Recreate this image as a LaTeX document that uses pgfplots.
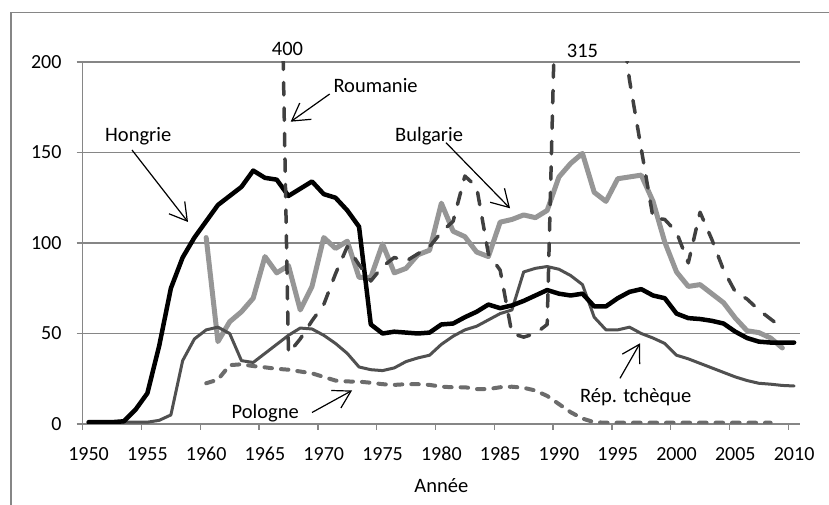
\documentclass[border=0pt]{standalone}
\usepackage{fontspec}
\setmainfont{Carlito}
\usepackage{pgfplots}
\pgfplotsset{compat=1.18}
\usetikzlibrary{arrows.meta}

\definecolor{axgray}{RGB}{134,134,134}
\definecolor{bulg}{RGB}{150,150,150}
\definecolor{tcheq}{RGB}{80,80,80}
\definecolor{polo}{RGB}{108,108,108}
\definecolor{roum}{RGB}{64,64,64}

\newcommand{\lbl}{\fontsize{20.5}{24}\selectfont}

\begin{document}
\begin{tikzpicture}[x=1pt,y=1pt,
  arr/.style={line width=1.2pt,-{Straight Barb[length=17pt,width=20pt,line width=1.2pt]}},
  txt/.style={anchor=base west,inner sep=0pt,font=\lbl}]
\path[use as bounding box] (0,0) rectangle (829,505);
% outer chart frame (only left and top visible)
\draw[axgray,line width=1.3pt] (11,-5) -- (11,505-12.7) -- (840,505-12.7);

\begin{axis}[
  at={(82.7pt,81pt)}, anchor=south west,
  scale only axis, width=717.3pt, height=362pt,
  xmin=1949.5, xmax=2010.5, ymin=0, ymax=200,
  axis x line*=bottom, axis y line*=left,
  axis line style={axgray,line width=1.3pt},
  xtick={1949.5,1954.5,...,2009.5},
  xticklabels={1950,1955,1960,1965,1970,1975,1980,1985,1990,1995,2000,2005,2010},
  ytick={0,50,...,200},
  ymajorgrids, grid style={axgray,line width=1.3pt},
  tick align=outside, major tick length=6pt,
  tick style={axgray,line width=1.3pt},
  tick label style={font=\fontsize{20}{24}\selectfont},
  /pgf/number format/assume math mode=true,
  xticklabel style={anchor=base,inner sep=0pt,xshift=5.88pt,yshift=-30.7pt},
  yticklabel style={anchor=east,inner sep=0pt,xshift=-15pt},
  xlabel={Année},
  xlabel style={at={(axis description cs:0.5,0)},anchor=base,inner sep=0pt,yshift=-68.3pt,font=\lbl},
  line join=round,
]
% Bulgarie
\addplot[bulg,line width=5pt,line cap=round] table {
1960 103
1961 45.5
1962 56.5
1963 62
1964 69.5
1965 92.5
1966 83.5
1967 87.5
1968 63
1969 76
1970 103
1971 97
1972 101
1973 81
1974 81
1975 99.5
1976 83.5
1977 86
1978 93.5
1979 96
1980 122
1981 106.5
1982 103.5
1983 95
1984 92.5
1985 111.5
1986 113
1987 115.5
1988 114
1989 118
1990 136.5
1991 144
1992 149.5
1993 128
1994 123
1995 135.5
1996 136.5
1997 137.5
1998 123
1999 100.5
2000 84
2001 76
2002 77
2003 72
2004 67
2005 58.5
2006 51.5
2007 50.5
2008 47.5
2009 42
};
% Pologne
\addplot[polo,line width=4pt,line cap=round,dash pattern=on 7.5pt off 9pt] table {
1960 22.5
1961 24.5
1962 32.5
1963 33
1964 32
1965 31.3
1966 30.5
1967 30
1968 29
1969 28
1970 26
1971 24
1972 23.5
1973 23.4
1974 22.8
1975 22
1976 21.6
1977 22
1978 22
1979 21.6
1980 20.6
1981 20.3
1982 20.3
1983 19.3
1984 19.3
1985 20.3
1986 20.6
1987 20
1988 18.5
1989 15.5
1990 11
1991 6.5
1992 3
1993 1
1994 0.7
1995 0.7
1996 0.7
1997 0.7
1998 0.7
1999 0.7
2000 0.7
2001 0.7
2002 0.7
2003 0.7
2004 0.7
2005 0.7
2006 0.7
2007 0.7
2008 0.7
};
% Rep. tcheque
\addplot[tcheq,line width=3pt,line cap=round] table {
1950 1
1951 1
1952 1
1953 1
1954 1
1955 1
1956 2
1957 5
1958 35
1959 47
1960 52
1961 53.5
1962 50
1963 35
1964 34
1965 39
1966 44
1967 49
1968 53
1969 52.5
1970 49
1971 44.5
1972 39
1973 31.5
1974 30
1975 29.5
1976 31
1977 34.5
1978 36.5
1979 38
1980 44
1981 48.5
1982 52
1983 54
1984 57.5
1985 61
1986 63
1987 84
1988 86
1989 87
1990 85.5
1991 82
1992 77
1993 59
1994 52
1995 52
1996 53.5
1997 50
1998 47.5
1999 44.5
2000 38
2001 36
2002 33.5
2003 31
2004 28.5
2005 26
2006 24
2007 22.5
2008 22
2009 21.3
2010 21
};
% Hongrie
\addplot[black,line width=4.5pt,line cap=round] table {
1950 1
1951 1
1952 1
1953 1.5
1954 8
1955 17
1956 43
1957 75
1958 92
1959 103
1960 112
1961 121
1962 126
1963 131
1964 140
1965 136
1966 135
1967 126
1968 130
1969 134
1970 127
1971 125
1972 118
1973 109
1974 55
1975 50
1976 51
1977 50.5
1978 50
1979 50.5
1980 55
1981 55.5
1982 59
1983 62
1984 66
1985 64
1986 65.5
1987 68
1988 71
1989 74
1990 72
1991 71
1992 72
1993 65
1994 65
1995 69.5
1996 73
1997 74.5
1998 71
1999 69.5
2000 61
2001 58.5
2002 58
2003 57
2004 55.5
2005 51
2006 47.5
2007 45.5
2008 45
2009 45
2010 45
};
% Roumanie
\addplot[roum,line width=3.5pt,line cap=round,dash pattern=on 12.5pt off 13pt] table {
1966 400
1967 39
1968 47
1969 57
1970 66
1971 83
1972 98
1973 88
1974 79
1975 87
1976 92
1977 90
1978 94
1979 98
1980 106
1981 112
1982 137
1983 131
1984 94
1985 85
1986 50
1987 48
1988 50
1989 55
1990 315
1991 300
1992 275
1993 260
1994 250
1995 240
1996 190
1997 152
1998 114
1999 113
2000 106
2001 89
2002 117
2003 102
2004 85
2005 73
2006 69
2007 63
2008 58
2009 53
};
\end{axis}

% annotations (image pixel coordinates, y measured from top)
\node[txt] at (105,505-141.7) {Hongrie};
\draw[arr] (132,505-150) -- (188,505-222);
\node[txt] at (333.3,505-92.5) {Roumanie};
\draw[arr] (329.7,505-94) -- (290.7,505-121.7);
\node[txt] at (395,505-141.7) {Bulgarie};
\draw[arr] (446,505-142.7) -- (510,505-208.3);
\node[txt] at (231.5,505-418.3) {Pologne};
\draw[arr] (312,505-412.5) -- (352,505-390.5);
\node[txt] at (580,505-402.3) {Rép. tchèque};
\draw[arr] (620,505-378.3) -- (640,505-343.3);
\node[txt] at (271.7,505-56) {400};
\node[txt] at (566.7,505-58) {315};
\end{tikzpicture}
\end{document}
